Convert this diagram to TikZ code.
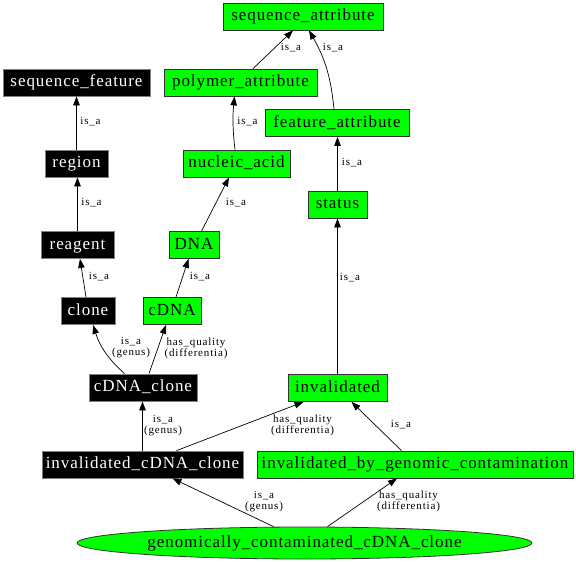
\documentclass[tikz,border=0pt]{standalone}
\usepackage{fontspec}
\setmainfont{Liberation Serif}
\newfontfamily\nodefont[LetterSpace=5.5]{Liberation Serif}
\newfontfamily\lblfont[LetterSpace=7.5]{Liberation Serif}
\usetikzlibrary{arrows.meta,shapes.geometric}
\definecolor{lime}{HTML}{00FF00}
\definecolor{bbord}{HTML}{808080}
\definecolor{gbord}{HTML}{333333}
\tikzset{
  box/.style={rectangle, minimum height=27pt, inner sep=0pt, line width=0.8pt,
    font=\nodefont\fontsize{17}{20}\selectfont, text height=12pt, text depth=3.6pt},
  blk/.style={box, fill=black, draw=bbord, text=white},
  grn/.style={box, fill=lime, draw=gbord, text=black},
  lbl/.style={font=\lblfont\fontsize{11}{11}\selectfont, align=center, inner sep=0pt},
  edge/.style={draw=black, line width=0.7pt, -{Triangle[length=9pt,width=6.5pt]}}
}
\begin{document}
\begin{tikzpicture}[x=1pt,y=-1pt]
\useasboundingbox (0,0) rectangle (576,562);
% nodes
\node[grn, minimum width=160pt] (sa) at (303,16.5) {sequence\_attribute};
\node[grn, minimum width=153pt] (pa) at (240.5,82.5) {polymer\_attribute};
\node[blk, minimum width=147pt] (sf) at (76.5,82.5) {sequence\_feature};
\node[grn, minimum width=144pt] (fa) at (337,123) {feature\_attribute};
\node[blk, minimum width=63pt] (rg) at (76.5,163.5) {region};
\node[grn, minimum width=107pt] (na) at (236.5,163.5) {nucleic\_acid};
\node[grn, minimum width=59pt] (st) at (337.5,204.5) {status};
\node[blk, minimum width=73pt] (re) at (77.5,245) {reagent};
\node[grn, minimum width=50pt] (dna) at (194,245) {DNA};
\node[blk, minimum width=54pt] (cl) at (88,311) {clone};
\node[grn, minimum width=58pt] (cd) at (172,311) {cDNA};
\node[blk, minimum width=108pt] (cc) at (143,387.5) {cDNA\_clone};
\node[grn, minimum width=99pt] (inv) at (337.5,388) {invalidated};
\node[blk, minimum width=201pt] (icc) at (142.5,464.5) {invalidated\_cDNA\_clone};
\node[grn, minimum width=316pt] (ibgc) at (415,464.5) {invalidated\_by\_genomic\_contamination};
\node[ellipse, fill=lime, draw=gbord, line width=0.8pt, minimum width=455pt, minimum height=32pt,
  inner sep=0pt, font=\nodefont\fontsize{17}{20}\selectfont, text height=12pt, text depth=3.6pt]
  (gcc) at (304.5,543) {genomically\_contaminated\_cDNA\_clone};
% edges
\draw[edge] ([xshift=12.5pt]pa.north) -- ([xshift=-10pt]sa.south)
  node[lbl] (l1) at (291,48) {is\_a};
\draw[edge] ([xshift=-3pt]fa.north) to[bend right=12] ([xshift=6pt]sa.south)
  node[lbl] (l2) at (333,48) {is\_a};
\draw[edge] (rg.north) -- (sf.south)
  node[lbl] (l3) at (90.5,122) {is\_a};
\draw[edge] ([xshift=-1.5pt]na.north) to[bend left=6] ([xshift=-6pt]pa.south)
  node[lbl] (l4) at (247.5,122) {is\_a};
\draw[edge] (st.north) -- (st.north |- fa.south)
  node[lbl] (l5) at (352,163) {is\_a};
\draw[edge] (re.north) -- (re.north |- rg.south)
  node[lbl] (l6) at (91.5,203) {is\_a};
\draw[edge] ([xshift=7.5pt]dna.north) -- ([xshift=-7.5pt]na.south)
  node[lbl] (l7) at (236,203) {is\_a};
\draw[edge] (inv.north) -- (st.south)
  node[lbl] (l8) at (350,278) {is\_a};
\draw[edge] ([xshift=-2pt]cl.north) -- ([xshift=2.5pt]re.south)
  node[lbl] (l9) at (99,277) {is\_a};
\draw[edge] ([xshift=4pt]cd.north) -- ([xshift=-5.5pt]dna.south)
  node[lbl] (l10) at (200,277) {is\_a};
\draw[edge] ([xshift=-18.5pt]cc.north) to[bend left=15] ([xshift=5pt]cl.south)
  node[lbl] (l11) at (131,348) {is\_a\\(genus)};
\draw[edge] ([xshift=6pt]cc.north) -- ([xshift=-6pt]cd.south)
  node[lbl] (l12) at (196,348) {has\_quality\\(differentia)};
\draw[edge] (icc.north) -- (icc.north |- cc.south)
  node[lbl] (l13) at (163,426) {is\_a\\(genus)};
\draw[edge] ([xshift=34pt]icc.north) -- ([xshift=-34pt]inv.south)
  node[lbl] (l14) at (302.5,425.5) {has\_quality\\(differentia)};
\draw[edge] ([xshift=-13.5pt]ibgc.north) -- ([xshift=14pt]inv.south)
  node[lbl] (l15) at (401,425) {is\_a};
\draw[edge] ([xshift=-31pt]gcc.north) -- ([xshift=30pt]icc.south)
  node[lbl] (l16) at (264,501.5) {is\_a\\(genus)};
\draw[edge] ([xshift=23pt]gcc.north) -- ([xshift=-18pt]ibgc.south)
  node[lbl] (l17) at (408.5,501.5) {has\_quality\\(differentia)};
\end{tikzpicture}
\end{document}
